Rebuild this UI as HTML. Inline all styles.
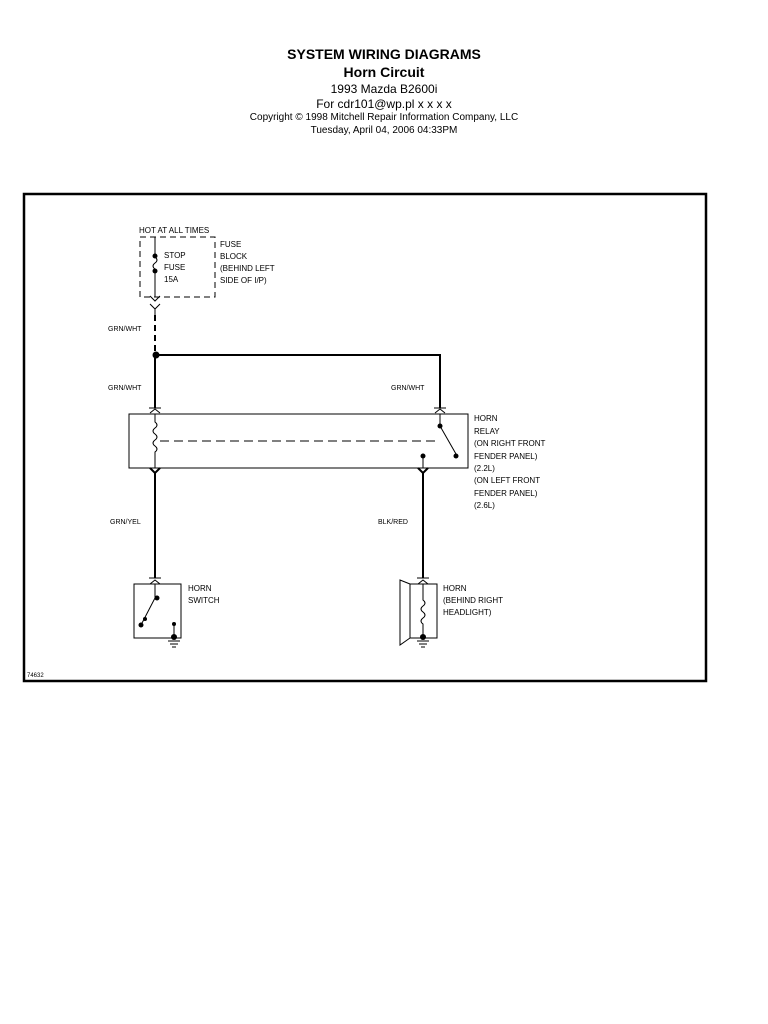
<!DOCTYPE html>
<html><head><style>
body{margin:0;background:#fff;width:768px;height:1024px;position:relative;font-family:"Liberation Sans",sans-serif;}
.h{position:absolute;left:0;width:768px;text-align:center;color:#000;}
</style></head><body>
<div class="h" style="top:46px;font-size:14px;font-weight:bold;">SYSTEM WIRING DIAGRAMS</div>
<div class="h" style="top:64px;font-size:14px;font-weight:bold;">Horn Circuit</div>
<div class="h" style="top:82px;font-size:12px;">1993 Mazda B2600i</div>
<div class="h" style="top:97px;font-size:12px;">For cdr101@wp.pl x x x x</div>
<div class="h" style="top:112px;font-size:10px;">Copyright © 1998 Mitchell Repair Information Company, LLC</div>
<div class="h" style="top:125px;font-size:10px;">Tuesday, April 04, 2006  04:33PM</div>
<svg width="768" height="1024" style="position:absolute;left:0;top:0" font-family="Liberation Sans, sans-serif" font-size="8">
<rect x="24" y="194" width="682" height="487" fill="none" stroke="#000" stroke-width="2.5"/>
<g stroke="#000" fill="none" stroke-width="1">
<!-- fuse block -->
<rect x="140" y="237" width="75" height="60" stroke-dasharray="6,4"/>
<path d="M155 237 V255 M155 272 V297"/>
<path d="M155 257 q4 3 0 6 q-4 3 0 6"/>
<path d="M150 296 l5 5 l5 -5 M150 304 l5 5 l5 -5 M155 309 V315"/>
<path d="M155 315 V355" stroke-dasharray="6,4" stroke-width="2"/>
<path d="M156 355 H440 V408" stroke-width="2"/>
<path d="M155 355 V408" stroke-width="2"/>
<path d="M149 408 h12 M150 413 l5 -4 l5 4"/>
<path d="M434 408 h12 M435 413 l5 -4 l5 4"/>
<rect x="129" y="414" width="339" height="54"/>
<path d="M155 414 V422 q4 3 0 6 q-4 3 0 6 q4 3 0 6 q-4 3 0 6 q4 3 0 6 V468"/>
<path d="M160 441 H440" stroke-dasharray="9,5"/>
<path d="M440 414 V426 L456 454"/>
<path d="M423 456 V468"/>
<path d="M150 468 l5 5 l5 -5 M155 473 V578" stroke-width="2"/>
<path d="M418 468 l5 5 l5 -5 M423 473 V578" stroke-width="2"/>
<path d="M149 578 h12 M150 584 l5 -4 l5 4"/>
<path d="M417 578 h12 M418 584 l5 -4 l5 4"/>
<rect x="134" y="584" width="47" height="54"/>
<path d="M155 584 V598 L141 625"/>
<path d="M174 624 V636 M168 641 h12 M170 644 h8 M172 647 h4"/>
<rect x="410" y="584" width="27" height="54"/>
<path d="M410 584 L400 580 V645 L410 638"/>
<path d="M423 584 V600 q4 3 0 6 q-4 3 0 6 q4 3 0 6 q-4 3 0 6 V636 M417 641 h12 M419 644 h8 M421 647 h4"/>
</g>
<g fill="#000">
<circle cx="155" cy="256" r="2.5"/><circle cx="155" cy="271" r="2.5"/>
<circle cx="156" cy="355" r="3.5"/>
<circle cx="440" cy="426" r="2.5"/><circle cx="456" cy="456" r="2.5"/>
<circle cx="423" cy="456" r="2.5"/>
<circle cx="157" cy="598" r="2.5"/><circle cx="141" cy="625" r="2.5"/><circle cx="145" cy="619" r="2"/>
<circle cx="174" cy="624" r="2"/><circle cx="174" cy="637" r="3"/>
<circle cx="423" cy="637" r="3"/>
<text x="139" y="233">HOT AT ALL TIMES</text>
<text x="164" y="258">STOP</text><text x="164" y="270">FUSE</text><text x="164" y="282">15A</text>
<text x="220" y="247">FUSE</text><text x="220" y="259">BLOCK</text><text x="220" y="271">(BEHIND LEFT</text><text x="220" y="283">SIDE OF I/P)</text>
<text x="108" y="331" font-size="7">GRN/WHT</text>
<text x="108" y="390" font-size="7">GRN/WHT</text>
<text x="391" y="390" font-size="7">GRN/WHT</text>
<text x="474" y="421">HORN</text><text x="474" y="434">RELAY</text><text x="474" y="446">(ON RIGHT FRONT</text><text x="474" y="459">FENDER PANEL)</text><text x="474" y="471">(2.2L)</text><text x="474" y="483">(ON LEFT FRONT</text><text x="474" y="496">FENDER PANEL)</text><text x="474" y="508">(2.6L)</text>
<text x="110" y="524" font-size="7">GRN/YEL</text>
<text x="378" y="524" font-size="7">BLK/RED</text>
<text x="188" y="591">HORN</text><text x="188" y="603">SWITCH</text>
<text x="443" y="591">HORN</text><text x="443" y="603">(BEHIND RIGHT</text><text x="443" y="615">HEADLIGHT)</text>
<text x="27" y="677" font-size="6">74632</text>
</g>
</svg>
</body></html>
